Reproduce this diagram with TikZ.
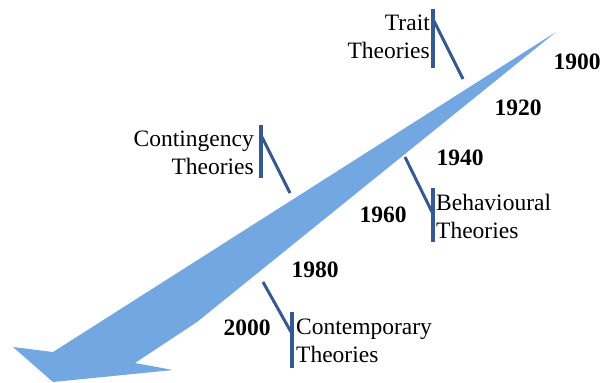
\documentclass[tikz,border=0pt]{standalone}
\usepackage{fontspec}
\setmainfont{Liberation Serif}
\definecolor{arrowblue}{RGB}{114,167,226}
\definecolor{linkblue}{RGB}{52,90,145}
\begin{document}
\begin{tikzpicture}[x=1pt,y=-1pt,
  lbl/.style={inner sep=0pt,font=\fontsize{23.5}{28}\selectfont},
  yr/.style={inner sep=0pt,font=\fontsize{23.5}{28}\selectfont\bfseries},
  bar/.style={draw=linkblue,line width=3.4pt},
  link/.style={draw=linkblue,line width=3pt}]
\useasboundingbox (0,0) rectangle (603,383);
% big arrow
\fill[arrowblue] (556,32) -- (53,352) -- (13,347) -- (53,382) -- (173,370) -- (135,363) -- (197,322) -- cycle;
% labels
\node[lbl,anchor=east,align=right] (trait) at (430,37) {Trait\hspace{7pt}\\Theories};
\node[lbl,anchor=east,align=right] (cont) at (254,153) {Contingency\\Theories};
\node[lbl,anchor=west,align=left] (behav) at (436,216) {Behavioural\\Theories};
\node[lbl,anchor=west,align=left] (contemp) at (296,341) {Contemporary\\Theories};
% years
\node[yr] (y1900) at (577,62) {1900};
\node[yr] (y1920) at (518,108) {1920};
\node[yr] (y1940) at (460,158) {1940};
\node[yr] (y1960) at (383,215) {1960};
\node[yr] (y1980) at (315,270) {1980};
\node[yr] (y2000) at (247,328) {2000};
% callout coordinates
\coordinate (tA) at (433,9);   \coordinate (tB) at (433,68);
\coordinate (tC) at (434,21);  \coordinate (tD) at (463,79);
\coordinate (cA) at (261,125); \coordinate (cB) at (261,178);
\coordinate (cC) at (262,137); \coordinate (cD) at (290,193);
\coordinate (bA) at (433,188); \coordinate (bB) at (433,242);
\coordinate (bC) at (405,157); \coordinate (bD) at (432,212);
\coordinate (pA) at (292,312); \coordinate (pB) at (292,368);
\coordinate (pC) at (263,282); \coordinate (pD) at (291,332);
\draw[bar] (tA) -- (tB); \draw[link] (tC) -- (tD);
\draw[bar] (cA) -- (cB); \draw[link] (cC) -- (cD);
\draw[bar] (bA) -- (bB); \draw[link] (bC) -- (bD);
\draw[bar] (pA) -- (pB); \draw[link] (pC) -- (pD);
\end{tikzpicture}
\end{document}
